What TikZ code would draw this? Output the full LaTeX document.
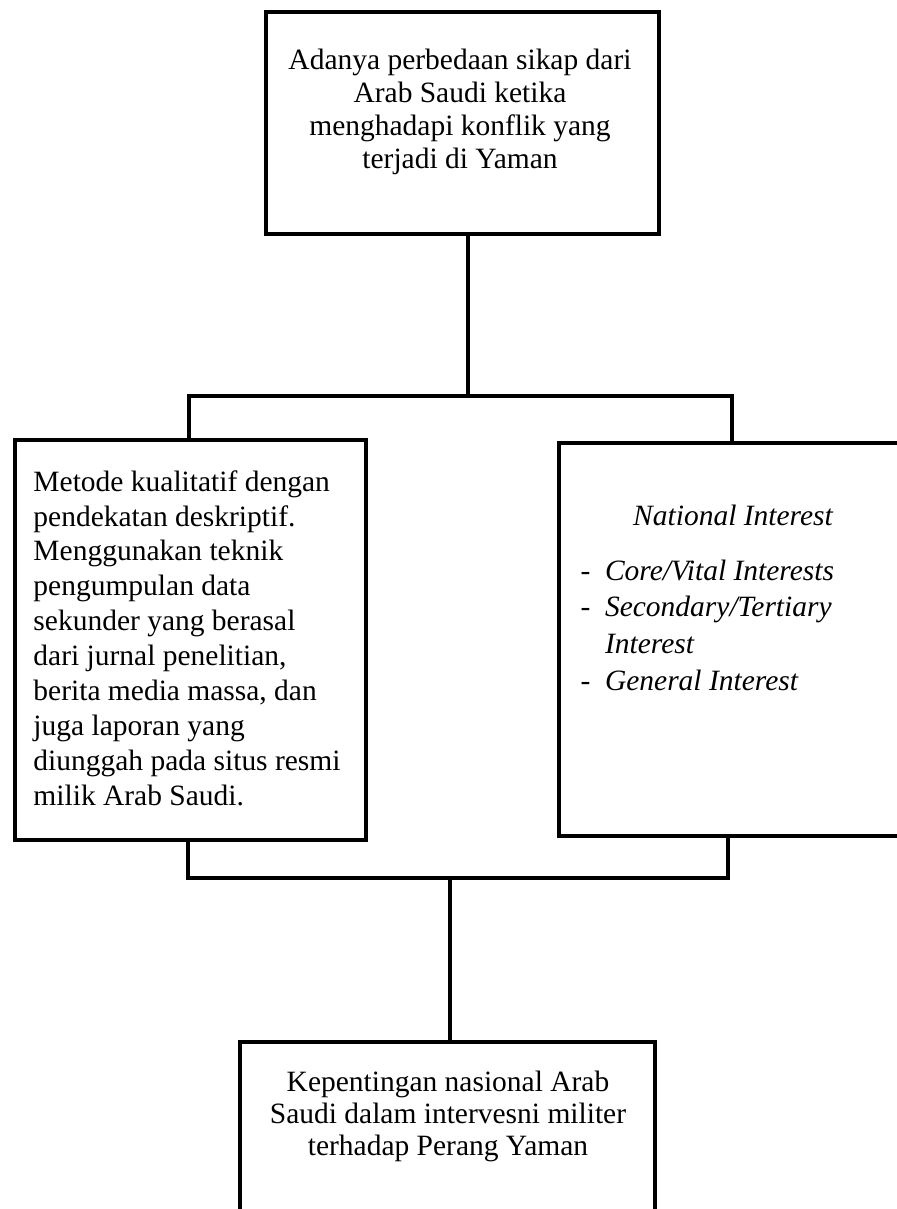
\documentclass[tikz,border=0pt]{standalone}
\usepackage{fontspec}
\setmainfont{Liberation Serif}
\newcommand{\upx}{0.407pt}
\begin{document}
\begin{tikzpicture}[x=0.407pt,y=-0.407pt,
  kotak/.style={draw,line width=1.6pt,inner sep=0pt,anchor=north west},
  garis/.style={line width=1.5pt},
  teks/.style={inner sep=0pt,font=\fontsize{12pt}{13.4pt}\selectfont}]
\useasboundingbox (0,0) rectangle (897,1209);
% kotak-kotak
\node[kotak,minimum width=393*\upx,minimum height=222*\upx] (latar) at (264,10) {};
\node[kotak,minimum width=351*\upx,minimum height=400*\upx] (metode) at (13,438) {};
\node[kotak,minimum width=373*\upx,minimum height=393*\upx] (teori) at (557,441) {};
\node[kotak,minimum width=415*\upx,minimum height=200*\upx] (hasil) at (238,1040) {};
% isi teks
\node[teks,align=center] (latar-t) at (460,112) {Adanya perbedaan sikap dari\\Arab Saudi ketika\\menghadapi konflik yang\\terjadi di Yaman};
\node[teks,align=left,anchor=west,font=\fontsize{12pt}{14.2pt}\selectfont] (metode-t) at (33,638) {Metode kualitatif dengan\\pendekatan deskriptif.\\Menggunakan teknik\\pengumpulan data\\sekunder yang berasal\\dari jurnal penelitian,\\berita media massa, dan\\juga laporan yang\\diunggah pada situs resmi\\milik Arab Saudi.};
\node[teks,font=\fontsize{12pt}{13.4pt}\selectfont\itshape] (teori-judul) at (733,515) {National Interest};
\node[teks,anchor=west,font=\fontsize{12pt}{15pt}\selectfont] (teori-daftar) at (580,628) {\begin{tabular}{@{}l@{\hspace{6pt}}l@{}}
-&\textit{Core/Vital Interests}\\
-&\textit{Secondary/Tertiary}\\
&\textit{Interest}\\
-&\textit{General Interest}
\end{tabular}};
\node[teks,align=center,font=\fontsize{12pt}{13pt}\selectfont] (hasil-t) at (448,1116) {Kepentingan nasional Arab\\Saudi dalam intervesni militer\\terhadap Perang Yaman};
% garis penghubung
\coordinate (cabang-atas) at (468,396);
\coordinate (kiri-atas) at (189,396);
\coordinate (kanan-atas) at (732,396);
\coordinate (cabang-bawah) at (450,878);
\coordinate (kiri-bawah) at (188,878);
\coordinate (kanan-bawah) at (728,878);
\draw[garis] (latar.south -| cabang-atas) -- (cabang-atas);
\draw[garis] (metode.north -| kiri-atas) -- (kiri-atas) -- (kanan-atas) -- (teori.north -| kanan-atas);
\draw[garis] (metode.south -| kiri-bawah) -- (kiri-bawah) -- (kanan-bawah) -- (teori.south -| kanan-bawah);
\draw[garis] (cabang-bawah) -- (hasil.north -| cabang-bawah);
\end{tikzpicture}
\end{document}
